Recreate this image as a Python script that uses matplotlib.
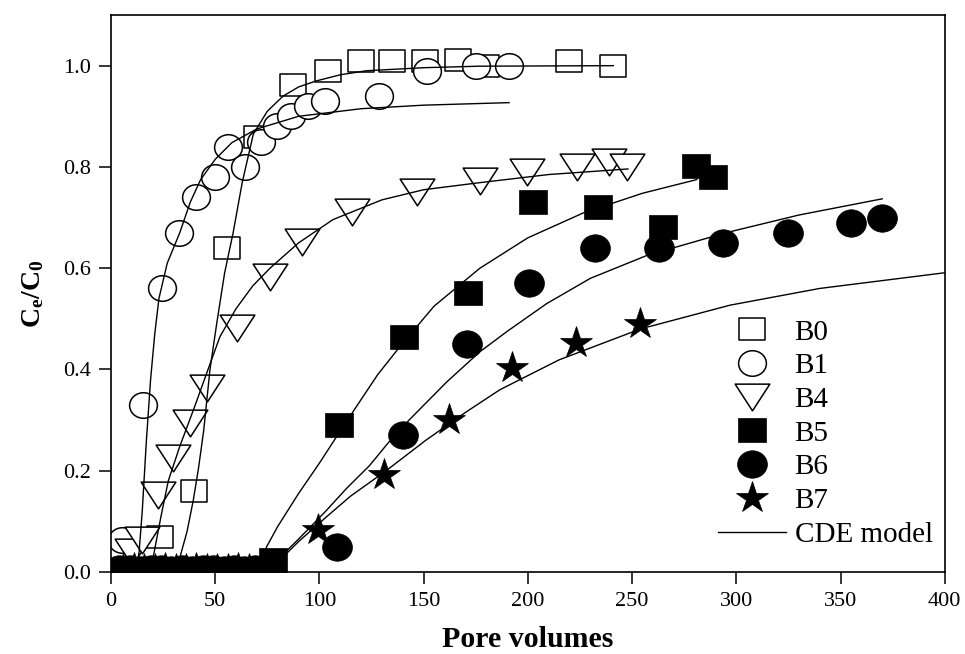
import numpy as np
import matplotlib
matplotlib.use('Agg')
import matplotlib.pyplot as plt
from matplotlib.path import Path
from matplotlib.lines import Line2D

plt.rcParams['font.family'] = ['Liberation Serif', 'DejaVu Serif']
plt.rcParams['mathtext.fontset'] = 'custom'
plt.rcParams['mathtext.rm'] = 'Liberation Serif'
plt.rcParams['mathtext.bf'] = 'Liberation Serif:bold'

# measured breakthrough points (pore volumes, Ce/C0)
b0_x = [5, 10, 15, 23.5, 40, 55.6, 70, 87.4, 104, 119.8, 135, 150.6, 166.5, 180, 219.7, 240.8]
b0_y = [0.0, 0.0, 0.0, 0.07, 0.16, 0.64, 0.86, 0.962, 0.99, 1.01, 1.01, 1.01, 1.012, 1.0, 1.01, 1.0]

b1_x = [5.1, 15.5, 24.6, 32.7, 40.8, 49.9, 56.2, 64.3, 72, 79.5, 86.6, 94.6, 102.6, 128.7, 151.7, 175, 191]
b1_y = [0.063, 0.33, 0.56, 0.67, 0.74, 0.78, 0.84, 0.80, 0.85, 0.88, 0.90, 0.92, 0.93, 0.94, 0.99, 1.0, 1.0]

b4_x = [10, 14.7, 22.7, 29.9, 37.9, 45.9, 60.7, 76.3, 91.5, 115.7, 146.6, 177, 199.8, 223.7, 238.9, 247.8]
b4_y = [0.04, 0.063, 0.152, 0.225, 0.294, 0.364, 0.482, 0.582, 0.651, 0.711, 0.751, 0.773, 0.79, 0.80, 0.81, 0.80]

b5_x = [2, 7, 12, 17, 22, 27, 32, 37, 42, 47, 52, 57, 62, 67, 72,
        77.6, 109.5, 140.5, 171.4, 202.6, 233.7, 264.9, 280.9, 288.9]
b5_y = [0.003, 0.004, 0.003, 0.005, 0.004, 0.003, 0.004, 0.003, 0.004, 0.003, 0.004, 0.003, 0.004, 0.003, 0.004,
        0.024, 0.29, 0.465, 0.551, 0.731, 0.721, 0.682, 0.801, 0.781]

b6_x = [4, 9, 14, 19, 24, 29, 34, 39, 44, 49, 54, 59, 64, 69,
        108.5, 139.9, 170.9, 200.6, 232.1, 262.8, 293.6, 324.7, 354.9, 369.8]
b6_y = [0.005, 0.006, 0.004, 0.005, 0.006, 0.004, 0.005, 0.004, 0.006, 0.005, 0.004, 0.005, 0.004, 0.005,
        0.05, 0.27, 0.45, 0.57, 0.64, 0.64, 0.65, 0.67, 0.69, 0.70]

b7_x = [6, 11, 16, 21, 26, 31, 36, 41, 46, 51, 56, 61, 66, 76,
        99.4, 131, 162, 192.3, 222.9, 254]
b7_y = [0.004, 0.005, 0.003, 0.004, 0.005, 0.003, 0.004, 0.005, 0.003, 0.004, 0.003, 0.006, 0.004, 0.01,
        0.083, 0.192, 0.30, 0.403, 0.453, 0.49]

# CDE model curves
cde0_x = [0, 30, 33, 36.5, 39.5, 42, 44.5, 47.5, 50.7, 54.5, 58.6, 63, 68.3, 75, 82.6, 90, 98.6, 110, 122.6, 150, 177, 241]
cde0_y = [0, 0, 0.028, 0.08, 0.142, 0.205, 0.28, 0.4, 0.49, 0.59, 0.67, 0.77, 0.865, 0.91, 0.94, 0.958, 0.97, 0.982, 0.99, 0.996, 0.999, 1.0]

cde1_x = [0, 12, 13.5, 15, 17, 19, 21, 23, 27, 33, 38, 43, 50, 58, 70, 90, 120, 150, 191]
cde1_y = [0, 0, 0.04, 0.12, 0.26, 0.38, 0.47, 0.54, 0.61, 0.67, 0.73, 0.775, 0.815, 0.848, 0.875, 0.90, 0.915, 0.922, 0.927]

cde4_x = [0, 17, 20.3, 24, 27.5, 33, 40, 47, 52.3, 60, 68, 76.3, 90, 106.5, 130, 150, 177, 210, 248]
cde4_y = [0, 0, 0.03, 0.11, 0.18, 0.248, 0.325, 0.405, 0.465, 0.52, 0.565, 0.60, 0.65, 0.696, 0.735, 0.755, 0.769, 0.785, 0.796]

cde5_x = [0, 70, 74.7, 80, 90, 100, 108.2, 117.8, 128, 138.6, 155, 177, 200, 226.5, 255, 281]
cde5_y = [0, 0, 0.05, 0.09, 0.155, 0.215, 0.267, 0.327, 0.39, 0.445, 0.525, 0.60, 0.66, 0.709, 0.748, 0.775]

cde6_x = [0, 76, 82.6, 90, 103, 113, 124, 133, 143, 161, 177, 190, 209, 230, 257, 295, 330, 370]
cde6_y = [0, 0, 0.035, 0.065, 0.12, 0.165, 0.21, 0.255, 0.30, 0.375, 0.435, 0.475, 0.53, 0.58, 0.625, 0.67, 0.705, 0.737]

cde7_x = [0, 76, 82.6, 90, 103.4, 115, 132, 151, 170, 186.6, 215, 254, 297, 340, 400]
cde7_y = [0, 0, 0.03, 0.06, 0.109, 0.15, 0.20, 0.26, 0.315, 0.36, 0.419, 0.48, 0.527, 0.56, 0.591]

labels = ['B0', 'B1', 'B4', 'B5', 'B6', 'B7']


def closed(verts):
    verts = list(verts) + [verts[0]]
    codes = [Path.MOVETO] + [Path.LINETO] * (len(verts) - 2) + [Path.CLOSEPOLY]
    return Path(verts, codes)


# the source picture is a little stretched sideways, so markers are too
square = closed([(-1, -0.88), (1, -0.88), (1, 0.88), (-1, 0.88)])
tri_down = closed([(-1, 0.77), (1, 0.77), (0, -0.77)])
circ = Path.unit_circle()
ellipse = Path(circ.vertices * np.array([1.0, 0.92]), circ.codes)

open_kw = dict(ls='none', mfc='white', mec='black', mew=1.1)
fill_kw = dict(ls='none', mfc='black', mec='black', mew=0.5)

fig = plt.figure(figsize=(9.65, 6.54), dpi=100)
ax = fig.add_axes([0.115, 0.1254, 0.864, 0.8516])

h0, = ax.plot(b0_x, b0_y, marker=square, ms=18.5, **open_kw)
h1, = ax.plot(b1_x, b1_y, marker=ellipse, ms=20, **open_kw)
h4, = ax.plot(b4_x, b4_y, marker=tri_down, ms=25, **open_kw)
h5, = ax.plot(b5_x, b5_y, marker=square, ms=19.5, **fill_kw)
h6, = ax.plot(b6_x, b6_y, marker=ellipse, ms=21.5, **fill_kw)
h7, = ax.plot(b7_x, b7_y, marker='*', ms=24, **fill_kw)

for cx, cy in [(cde0_x, cde0_y), (cde1_x, cde1_y), (cde4_x, cde4_y),
               (cde5_x, cde5_y), (cde6_x, cde6_y), (cde7_x, cde7_y)]:
    ax.plot(cx, cy, color='black', lw=1.0, zorder=5)

ax.set_xlim(0, 400)
ax.set_ylim(0, 1.1)
ax.set_xticks(np.arange(0, 401, 50))
ax.set_yticks(np.arange(0, 1.01, 0.2))
ax.set_yticklabels([f'{v:.1f}' for v in np.arange(0, 1.01, 0.2)])
ax.tick_params(direction='out', length=8.5, width=1.1, labelsize=16, pad=6,
               top=False, right=False)
for sp in ax.spines.values():
    sp.set_linewidth(1.2)

ax.set_xlabel('Pore volumes', fontsize=21.5, fontweight='bold', labelpad=11)
ax.set_ylabel(r'$\mathbf{C_e/C_0}$', fontsize=20, labelpad=12)

line_handle = Line2D([], [], color='black', lw=1.0)
ax.legend([h0, h1, h4, h5, h6, h7, line_handle], labels + ['CDE model'],
          loc='upper left', bbox_to_anchor=(0.744, 0.512), bbox_transform=fig.transFigure,
          frameon=False, fontsize=21, handlelength=2.33, handletextpad=0.3,
          labelspacing=0.25, borderpad=0, borderaxespad=0, numpoints=1)

fig.savefig('out.png', dpi=100)
